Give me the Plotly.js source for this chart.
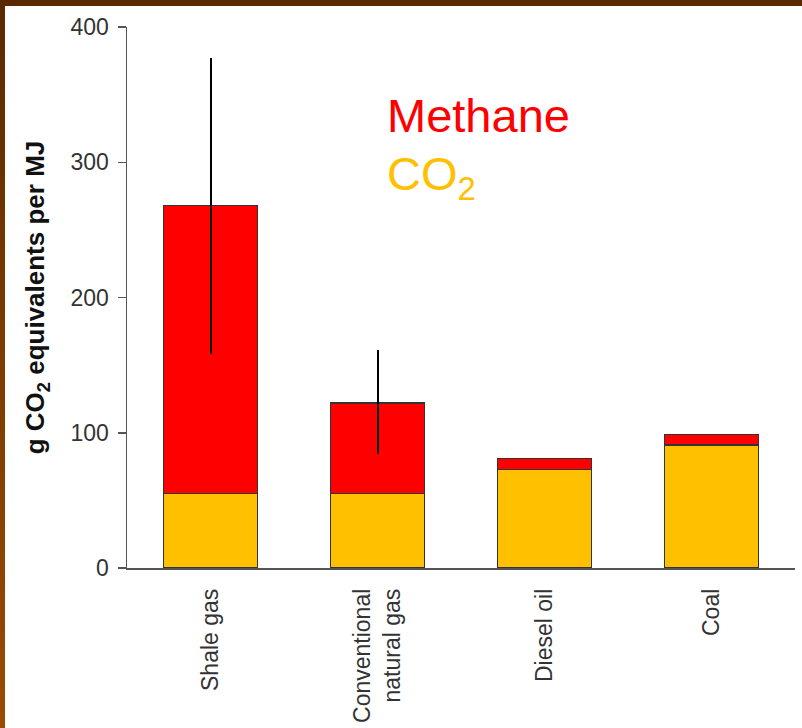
<!DOCTYPE html>
<html>
<head>
<meta charset="utf-8">
<script src="https://cdn.plot.ly/plotly-3.0.1.min.js"></script>
<style>
  html, body { margin: 0; padding: 0; background: #ffffff; }
  #wrap { position: relative; width: 802px; height: 728px; overflow: hidden; }
  #chart { position: absolute; left: 0; top: 0; width: 802px; height: 728px; }
  #frameTop { position: absolute; left: 0; top: 0; width: 802px; height: 6px; background: #5a2900; z-index: 5; }
  #frameLeft { position: absolute; left: 0; top: 0; width: 5px; height: 728px; z-index: 5;
               background: linear-gradient(to bottom, #5a2900 0%, #7a3a00 45%, #9a4b00 100%); }
</style>
</head>
<body>
<div id="wrap">
  <div id="chart"></div>
  <div id="frameTop"></div>
  <div id="frameLeft"></div>
</div>
<script>
// Life-cycle greenhouse gas footprint per MJ of fuel (g CO2-equivalent)
const fuels = ['Shale gas', 'Conventional<br>natural gas', 'Diesel oil', 'Coal'];
const co2Direct = [55, 55, 73, 91];
const methaneShare = [213, 67, 8, 8];
const methaneErrPlus = [109, 39, 0, 0];
const methaneErrMinus = [110, 38, 0, 0];
const yTicks = [0, 100, 200, 300, 400];

const FONT = 'Liberation Sans, Arial, Helvetica, sans-serif';
const RED = '#ff0000';
const ORANGE = '#ffc000';
const AXIS = '#555555';

const traces = [
  {
    type: 'bar',
    name: 'CO2',
    x: fuels,
    y: co2Direct,
    marker: { color: ORANGE, line: { color: '#333333', width: 1.2 } },
    hoverinfo: 'x+y'
  },
  {
    type: 'bar',
    name: 'Methane',
    x: fuels,
    y: methaneShare,
    marker: { color: RED, line: { color: '#333333', width: 1.2 } },
    error_y: {
      type: 'data',
      symmetric: false,
      array: methaneErrPlus,
      arrayminus: methaneErrMinus,
      color: '#000000',
      thickness: 2,
      width: 0
    },
    hoverinfo: 'x+y'
  }
];

const layout = {
  width: 802,
  height: 728,
  margin: { l: 127, r: 7, t: 27, b: 160 },
  paper_bgcolor: '#ffffff',
  plot_bgcolor: '#ffffff',
  barmode: 'stack',
  bargap: 0.44,
  showlegend: false,
  font: { family: FONT, color: '#333333', size: 23 },
  xaxis: {
    type: 'category',
    range: [-0.5, 3.5],
    showline: true,
    linecolor: AXIS,
    linewidth: 1.5,
    ticks: '',
    tickangle: -90,
    ticklabelstandoff: 10,
    tickfont: { family: FONT, size: 23, color: '#333333' },
    showgrid: false,
    zeroline: false,
    fixedrange: true
  },
  yaxis: {
    range: [0, 400],
    tickvals: yTicks,
    ticktext: yTicks.map(String),
    showline: true,
    linecolor: AXIS,
    linewidth: 1.5,
    ticks: 'outside',
    ticklen: 8,
    tickwidth: 1.5,
    tickcolor: AXIS,
    ticklabelstandoff: 4,
    tickfont: { family: FONT, size: 23, color: '#333333' },
    showgrid: false,
    zeroline: false,
    fixedrange: true,
    title: {
      text: '<b>g CO<sub>2</sub> equivalents per MJ</b>',
      font: { family: FONT, size: 26, color: '#111111' },
      standoff: 18
    }
  },
  annotations: [
    {
      xref: 'paper', yref: 'paper',
      x: 0.386, y: 0.837,
      xanchor: 'left', yanchor: 'middle',
      showarrow: false,
      text: 'Methane',
      font: { family: FONT, size: 47, color: RED }
    },
    {
      xref: 'paper', yref: 'paper',
      x: 0.386, y: 0.723,
      xanchor: 'left', yanchor: 'middle',
      showarrow: false,
      text: 'CO<sub>2</sub>',
      font: { family: FONT, size: 47, color: ORANGE }
    }
  ]
};

Plotly.newPlot('chart', traces, layout, { staticPlot: true, displayModeBar: false });
</script>
</body>
</html>
